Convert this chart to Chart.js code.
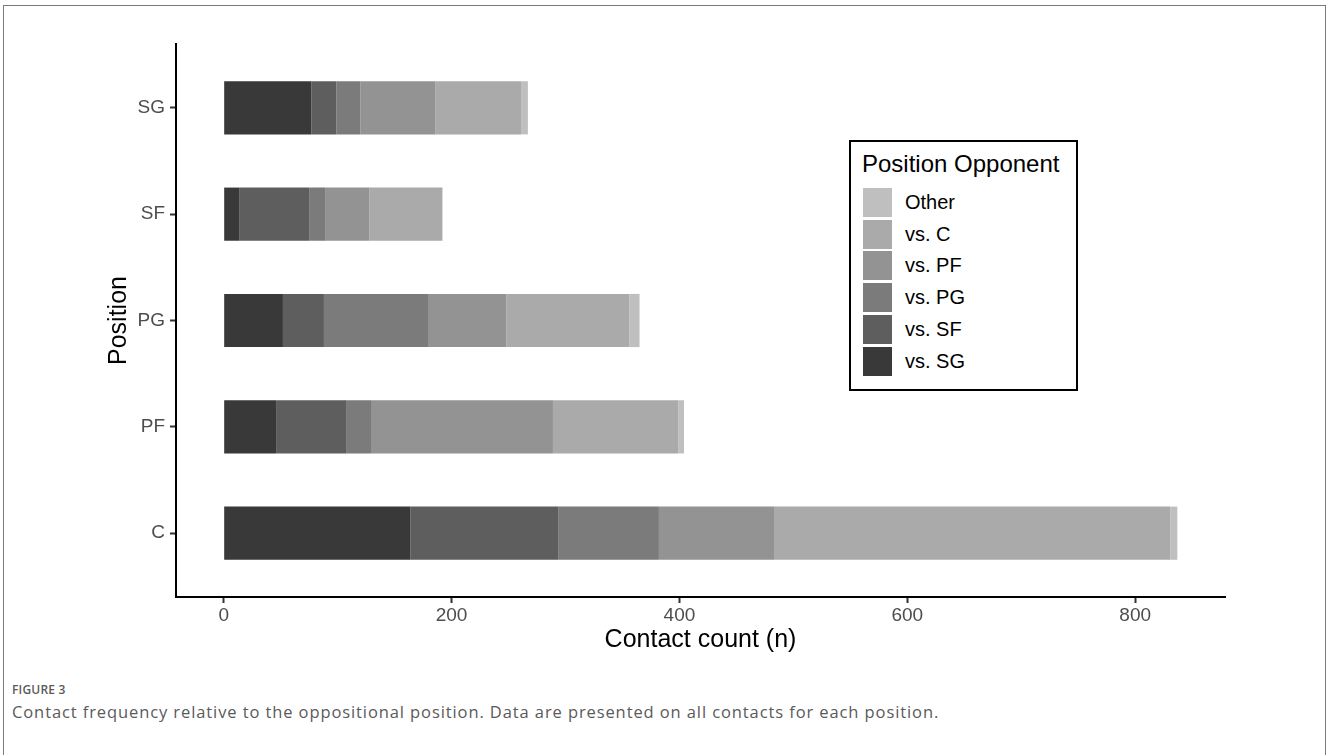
<!DOCTYPE html>
<html>
<head>
<meta charset="utf-8">
<script src="https://cdn.jsdelivr.net/npm/chart.js@4/dist/chart.umd.min.js"></script>
<style>
  html, body { margin: 0; padding: 0; background: #fff; }
  body { width: 1328px; height: 755px; position: relative; overflow: hidden; }
  #frame {
    position: absolute; left: 3px; top: 5px; width: 1323px; height: 800px;
    border: 1px solid #7a7a7a; box-sizing: border-box;
  }
  #chart { position: absolute; left: 0; top: 0; }
  #legend {
    position: absolute; left: 849px; top: 140px; width: 229px; height: 251px;
    border: 2px solid #000; box-sizing: border-box; background: #fff;
    font-family: "Liberation Sans", Arial, sans-serif; color: #000;
  }
  #legend .title { position: absolute; left: 11px; top: 10px; font-size: 24px; line-height: 24px; white-space: nowrap; }
  #legend .item { position: absolute; left: 12px; height: 29px; display: flex; align-items: center; }
  #legend .key { width: 29px; height: 29px; }
  #legend .lab { margin-left: 13px; font-size: 20px; white-space: nowrap; }
  .cap { position: absolute; left: 12px; font-family: "Open Sans", "Noto Sans", sans-serif; color: #5a5a5a; white-space: nowrap; }
  #figno { top: 681px; font-size: 12px; font-weight: 600; letter-spacing: 0.2px; }
  #figtext { top: 700px; font-size: 16.5px; letter-spacing: 0.9px; }
</style>
</head>
<body>
<div id="frame"></div>
<canvas id="chart" width="1328" height="680"></canvas>
<div id="legend"></div>
<div class="cap" id="figno">FIGURE 3</div>
<div class="cap" id="figtext">Contact frequency relative to the oppositional position. Data are presented on all contacts for each position.</div>
<script>
// Player positions, listed bottom to top on the vertical axis
const positions = ['C', 'PF', 'PG', 'SF', 'SG'];

// Contact counts per position, split by the opponent's position
const vsSG  = [164, 46, 52, 14, 77];
const vsSF  = [130, 62, 36, 61, 22];
const vsPG  = [88, 22, 92, 14, 21];
const vsPF  = [101, 159, 68, 39, 66];
const vsC   = [348, 110, 108, 64, 75];
const other = [6, 5, 9, 0, 6];

const seriesLabels = ['vs. SG', 'vs. SF', 'vs. PG', 'vs. PF', 'vs. C', 'Other'];
const seriesValues = [vsSG, vsSF, vsPG, vsPF, vsC, other];
const seriesColors = ['#393939', '#5e5e5e', '#7b7b7b', '#939393', '#aaaaaa', '#bfbfbf'];

const xTicks = [0, 200, 400, 600, 800];

const datasets = seriesLabels.map((label, s) => ({
  label,
  data: seriesValues[s].map((v, i) => ({ x: v, y: i + 1 })),
  backgroundColor: seriesColors[s],
  borderWidth: 0,
  barPercentage: 0.5,
  categoryPercentage: 1.0
}));

const axisFont = { family: '"Liberation Sans", Arial, sans-serif', size: 19 };
const titleFont = { family: '"Liberation Sans", Arial, sans-serif', size: 25 };

const chart = new Chart(document.getElementById('chart'), {
  type: 'bar',
  data: { datasets },
  options: {
    indexAxis: 'y',
    responsive: false,
    animation: false,
    events: [],
    layout: { padding: { left: 0, top: 44, right: 103, bottom: 0 } },
    plugins: { legend: { display: false }, tooltip: { enabled: false } },
    scales: {
      x: {
        type: 'linear',
        stacked: true,
        min: -41.85,
        max: 878.85,
        afterBuildTicks: (s) => { s.ticks = xTicks.map(v => ({ value: v })); },
        afterFit: (s) => { s.height = 83; },
        grid: { drawOnChartArea: false, drawTicks: true, tickLength: 6, tickWidth: 2, tickColor: '#333' },
        border: { display: true, color: '#000', width: 2 },
        ticks: { font: axisFont, color: '#4d4d4d', padding: 1, maxRotation: 0 },
        title: { display: true, text: 'Contact count (n)', font: titleFont, color: '#000', padding: { top: 0, bottom: 25 } }
      },
      y: {
        type: 'linear',
        stacked: true,
        offset: false,
        min: 0.4,
        max: 5.6,
        afterBuildTicks: (s) => { s.ticks = positions.map((_, i) => ({ value: i + 1 })); },
        afterFit: (s) => { s.width = 176; },
        grid: { offset: false, drawOnChartArea: false, drawTicks: true, tickLength: 6, tickWidth: 2, tickColor: '#333' },
        border: { display: true, color: '#000', width: 2 },
        ticks: { font: axisFont, color: '#4d4d4d', padding: 5, callback: (v) => positions[v - 1] },
        title: { display: true, text: 'Position', font: titleFont, color: '#000', padding: { top: 104, bottom: 0 } }
      }
    }
  }
});

// Legend box: series listed from the last stacked segment to the first
const legend = document.getElementById('legend');
const ttl = document.createElement('div');
ttl.className = 'title';
ttl.textContent = 'Position Opponent';
legend.appendChild(ttl);
chart.data.datasets.slice().reverse().forEach((ds, k) => {
  const item = document.createElement('div');
  item.className = 'item';
  item.style.top = (46 + k * 31.7) + 'px';
  const key = document.createElement('div');
  key.className = 'key';
  key.style.background = ds.backgroundColor;
  const lab = document.createElement('div');
  lab.className = 'lab';
  lab.textContent = ds.label;
  item.appendChild(key);
  item.appendChild(lab);
  legend.appendChild(item);
});
</script>
</body>
</html>
